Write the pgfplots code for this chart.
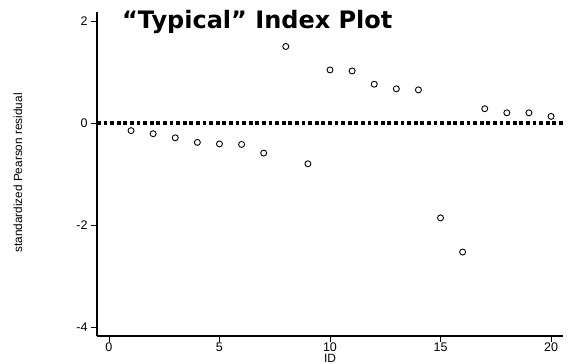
\documentclass[border=0pt]{standalone}
\usepackage{pgfplots}
\pgfplotsset{compat=1.18}
\usepackage{fontspec}
\setmainfont{Liberation Sans}
\newfontfamily\titlefont{DejaVu Sans}
\begin{document}
\begin{tikzpicture}
\path[use as bounding box] (-97pt,-28pt) rectangle (471pt,336pt);
\begin{axis}[
  at={(0,0)}, anchor=south west,
  scale only axis,
  width=466pt, height=324pt,
  xmin=-0.54, xmax=20.54,
  ymin=-4.176, ymax=2.176,
  axis x line=bottom, axis y line=left,
  axis line style={-, line width=1.2pt},
  tick align=outside,
  major tick length=6pt,
  every tick/.style={black, line width=0.8pt},
  xtick={0,5,10,15,20},
  ytick={-4,-2,0,2},
  minor tick num=0,
  /pgf/number format/assume math mode=true,
  tick label style={font=\fontsize{12.5}{14}\selectfont},
  xticklabel style={yshift=3pt},
  xlabel={ID},
  xlabel style={font=\fontsize{12}{14}\selectfont, at={(axis description cs:0.5,0)}, anchor=north, yshift=-18.5pt, inner sep=0pt},
  ylabel={standardized Pearson residual},
  ylabel style={font=\fontsize{11.8}{14}\selectfont, at={(axis description cs:-0.1695,0.503)}, anchor=center},
  clip=false,
]
\addplot[black, line width=3.5pt, dash pattern=on 3.8pt off 2.8pt] coordinates {(-0.54,0) (20.54,0)};
\addplot[only marks, mark=o, mark size=3pt, mark options={line width=0.9pt, black}] coordinates {
(1,-0.15) (2,-0.21) (3,-0.29) (4,-0.38) (5,-0.41) (6,-0.42) (7,-0.59) (8,1.50) (9,-0.80) (10,1.04)
(11,1.02) (12,0.76) (13,0.67) (14,0.65) (15,-1.86) (16,-2.53) (17,0.28) (18,0.20) (19,0.20) (20,0.13)
};
\end{axis}
\node[anchor=base west, inner sep=0pt, font=\titlefont\bfseries\fontsize{24}{28}\selectfont] at (25pt,307pt) {“Typical” Index Plot};
\end{tikzpicture}
\end{document}
